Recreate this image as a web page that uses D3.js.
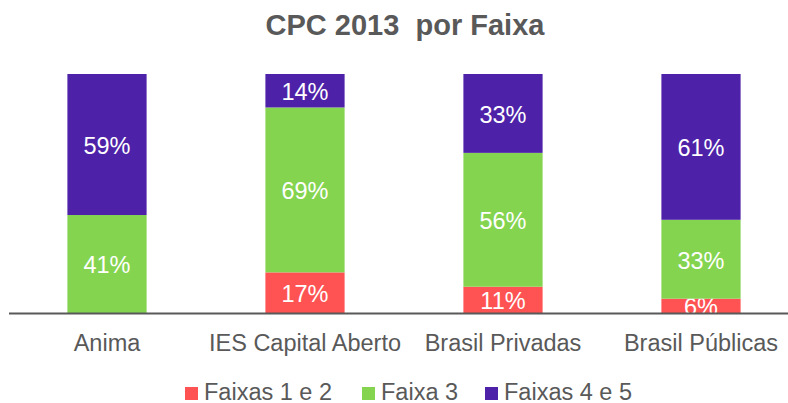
<!DOCTYPE html>
<html>
<head>
<meta charset="utf-8">
<script src="https://cdn.jsdelivr.net/npm/d3@7"></script>
<style>
  body { margin: 0; background: #fff; }
  text { font-family: "Liberation Sans", Arial, sans-serif; }
</style>
</head>
<body>
<svg id="chart" width="788" height="403"></svg>
<script>
var categories = ["Anima", "IES Capital Aberto", "Brasil Privadas", "Brasil Públicas"];
var seriesNames = ["Faixas 1 e 2", "Faixa 3", "Faixas 4 e 5"];
var faixa12 = [0, 0.17, 0.11, 0.06];
var faixa3 = [0.41, 0.69, 0.56, 0.33];
var faixa45 = [0.59, 0.14, 0.33, 0.61];
var colors = ["#ff5353", "#84d450", "#4e22a8"];

var svg = d3.select("#chart");

// table for the stack
var rows = categories.map(function (c, i) {
  return { cat: c, s0: faixa12[i], s1: faixa3[i], s2: faixa45[i] };
});
var stack = d3.stack().keys(["s0", "s1", "s2"]);
var layers = stack(rows);

var x = d3.scaleBand()
    .domain(categories)
    .range([8, 800])
    .paddingInner(0.6)
    .paddingOuter(0.3);

var y = d3.scaleLinear()
    .domain([0, 1])
    .range([313, 74]);

// title (double space kept)
svg.append("text")
   .attr("x", 405)
   .attr("y", 35)
   .attr("text-anchor", "middle")
   .attr("font-size", "29px")
   .attr("font-weight", "bold")
   .attr("fill", "#595959")
   .style("white-space", "pre")
   .text("CPC 2013  por Faixa");

var g = svg.append("g");

layers.forEach(function (layer, k) {
  g.selectAll(".bar" + k)
   .data(layer)
   .enter()
   .append("rect")
   .attr("x", function (d) { return x(d.data.cat); })
   .attr("y", function (d) { return y(d[1]); })
   .attr("width", x.bandwidth())
   .attr("height", function (d) { return y(d[0]) - y(d[1]); })
   .attr("fill", colors[k]);

  g.selectAll(".lbl" + k)
   .data(layer.filter(function (d) { return d[1] - d[0] > 0; }))
   .enter()
   .append("text")
   .attr("x", function (d) { return x(d.data.cat) + x.bandwidth() / 2; })
   .attr("y", function (d) { return (y(d[0]) + y(d[1])) / 2; })
   .attr("dy", "0.4em")
   .attr("text-anchor", "middle")
   .attr("font-size", "23.5px")
   .attr("fill", "#ffffff")
   .text(function (d) { return Math.round((d[1] - d[0]) * 100) + "%"; });
});

// x axis
var xAxis = d3.axisBottom(x).tickSize(0).tickPadding(21);
var ax = svg.append("g")
   .attr("transform", "translate(0,313)")
   .call(xAxis);
ax.select(".domain")
  .attr("d", "M9,0.5H788")
  .attr("stroke", "#595959")
  .attr("stroke-width", 2);
ax.selectAll(".tick text")
  .attr("font-size", "23.5px")
  .attr("font-family", "Liberation Sans, Arial, sans-serif")
  .attr("fill", "#595959");

// legend
var legendX = [185, 362, 485];
var leg = svg.append("g");
seriesNames.forEach(function (name, k) {
  leg.append("rect")
     .attr("x", legendX[k])
     .attr("y", 387)
     .attr("width", 13)
     .attr("height", 13)
     .attr("fill", colors[k]);
  leg.append("text")
     .attr("x", legendX[k] + 19)
     .attr("y", 400)
     .attr("font-size", "23.5px")
     .attr("fill", "#595959")
     .text(name);
});
</script>
</body>
</html>
